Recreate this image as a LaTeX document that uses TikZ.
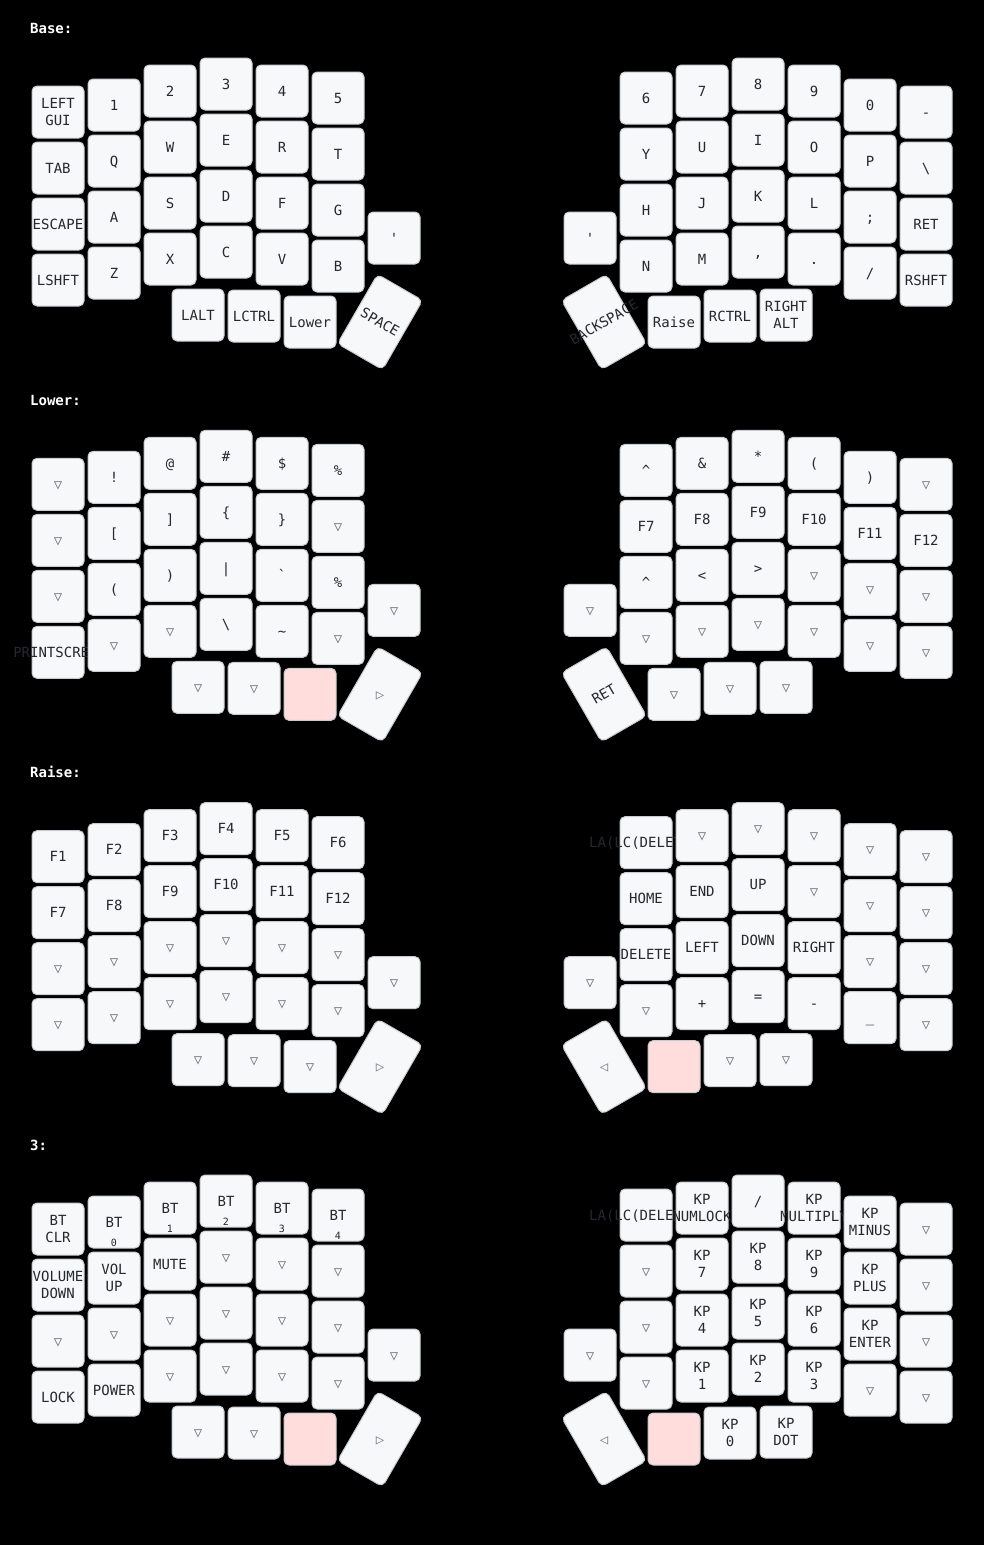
\documentclass[tikz,border=0pt]{standalone}
\usepackage{fontspec}
\newfontfamily\mono{DejaVu Sans Mono}[Ligatures=TeXOff]
\definecolor{keyfill}{HTML}{F6F8FA}
\definecolor{keyline}{HTML}{C9CCCF}
\definecolor{keytext}{HTML}{24292E}
\definecolor{transtext}{HTML}{7B7E81}
\definecolor{heldfill}{HTML}{FFDDDD}
\tikzset{
 kbox/.style={draw=keyline, fill=keyfill, line width=1pt, rounded corners=5pt, minimum width=52pt, minimum height=52pt, inner sep=0pt, outer sep=0pt},
 heldbox/.style={kbox, fill=heldfill},
 rotbox/.style={kbox, minimum height=80pt},
 lbl/.style={inner sep=0pt, text height=10pt, text depth=0pt, text=keytext, font=\mono\fontsize{14pt}{16.8pt}\selectfont},
 translbl/.style={lbl, text=transtext},
 holdlbl/.style={inner sep=0pt, anchor=base, text=keytext, font=\mono\fontsize{10pt}{12pt}\selectfont},
 layerlbl/.style={inner sep=0pt, anchor=west, text height=10pt, text depth=0pt, text=white, font=\mono\bfseries\fontsize{14pt}{16.8pt}\selectfont},
}
\newcommand\kk[4]{\def\cn{#1}\def\cx{#2}\def\cy{#3}\node[kbox] (#1) at (#2,#3) {};#4}
\newcommand\lA[1]{\node[lbl] (\cn-t) at (\cx,\cy) {#1};}
\newcommand\lX[2]{\node[lbl] (\cn-t) at (#1,\cy) {#2};}
\newcommand\lB[2]{\node[lbl] (\cn-a) at (\cx,\cy-8.4) {#1};\node[lbl] (\cn-b) at (\cx,\cy+8.4) {#2};}
\newcommand\lT{\node[translbl] (\cn-t) at (\cx,\cy) {▽};}
\newcommand\lH[2]{\node[lbl] (\cn-t) at (\cx,\cy) {#1};\node[holdlbl] (\cn-h) at (\cx,\cy+24) {#2};}
\newcommand\lrow[8]{%
 \kk{#1l#2a}{58}{112+56*#2+\LO}{#3}%
 \kk{#1l#2b}{114}{105+56*#2+\LO}{#4}%
 \kk{#1l#2c}{170}{91+56*#2+\LO}{#5}%
 \kk{#1l#2d}{226}{84+56*#2+\LO}{#6}%
 \kk{#1l#2e}{282}{91+56*#2+\LO}{#7}%
 \kk{#1l#2f}{338}{98+56*#2+\LO}{#8}}
\newcommand\rrow[8]{%
 \kk{#1r#2a}{646}{98+56*#2+\LO}{#3}%
 \kk{#1r#2b}{702}{91+56*#2+\LO}{#4}%
 \kk{#1r#2c}{758}{84+56*#2+\LO}{#5}%
 \kk{#1r#2d}{814}{91+56*#2+\LO}{#6}%
 \kk{#1r#2e}{870}{105+56*#2+\LO}{#7}%
 \kk{#1r#2f}{926}{112+56*#2+\LO}{#8}}
\begin{document}
\begin{tikzpicture}[x=1pt,y=-1pt]
\fill[black] (0,0) rectangle (984,1545);
\useasboundingbox (0,0) rectangle (984,1545);
% ---------------- Base
\def\LO{0}
\node[layerlbl] (b-title) at (30,28+\LO) {Base:};
\lrow{b}{0}{\lB{LEFT}{GUI}}{\lA{1}}{\lA{2}}{\lA{3}}{\lA{4}}{\lA{5}}
\rrow{b}{0}{\lA{6}}{\lA{7}}{\lA{8}}{\lA{9}}{\lA{0}}{\lA{-}}
\lrow{b}{1}{\lA{TAB}}{\lA{Q}}{\lA{W}}{\lA{E}}{\lA{R}}{\lA{T}}
\rrow{b}{1}{\lA{Y}}{\lA{U}}{\lA{I}}{\lA{O}}{\lA{P}}{\lA{\textbackslash}}
\lrow{b}{2}{\lA{ESCAPE}}{\lA{A}}{\lA{S}}{\lA{D}}{\lA{F}}{\lA{G}}
\rrow{b}{2}{\lA{H}}{\lA{J}}{\lA{K}}{\lA{L}}{\lA{;}}{\lA{RET}}
\kk{blx}{394}{238+\LO}{\lA{'}}
\kk{brx}{590}{238+\LO}{\lA{'}}
\lrow{b}{3}{\lA{LSHFT}}{\lA{Z}}{\lA{X}}{\lA{C}}{\lA{V}}{\lA{B}}
\rrow{b}{3}{\lA{N}}{\lA{M}}{\lA{,}}{\lA{.}}{\lA{/}}{\lA{RSHFT}}
\kk{blt1}{198}{315+\LO}{\lA{LALT}}
\kk{blt2}{254}{316+\LO}{\lA{LCTRL}}
\kk{blt3}{310}{322+\LO}{\lA{Lower}}
\node[rotbox, rotate=-30] (blt4) at (380,322+\LO) {};
\node[lbl, rotate=-30] (blt4-t) at (380,322+\LO) {SPACE};
\node[rotbox, rotate=30] (brt1) at (604,322+\LO) {};
\node[lbl, rotate=30] (brt1-t) at (604,322+\LO) {BACKSPACE};
\kk{brt2}{674}{322+\LO}{\lA{Raise}}
\kk{brt3}{730}{316+\LO}{\lA{RCTRL}}
\kk{brt4}{786}{315+\LO}{\lB{RIGHT}{ALT}}
% ---------------- Lower
\def\LO{372.33}
\node[layerlbl] (l-title) at (30,28+\LO) {Lower:};
\lrow{l}{0}{\lT}{\lA{!}}{\lA{@}}{\lA{\#}}{\lA{\$}}{\lA{\%}}
\rrow{l}{0}{\lA{\textasciicircum}}{\lA{\&}}{\lA{*}}{\lA{(}}{\lA{)}}{\lT}
\lrow{l}{1}{\lT}{\lA{[}}{\lA{]}}{\lA{\{}}{\lA{\}}}{\lT}
\rrow{l}{1}{\lA{F7}}{\lA{F8}}{\lA{F9}}{\lA{F10}}{\lA{F11}}{\lA{F12}}
\lrow{l}{2}{\lT}{\lA{(}}{\lA{)}}{\lA{|}}{\lA{`}}{\lA{\%}}
\rrow{l}{2}{\lA{\textasciicircum}}{\lA{<}}{\lA{>}}{\lT}{\lT}{\lT}
\kk{llx}{394}{238+\LO}{\lT}
\kk{lrx}{590}{238+\LO}{\lT}
\lrow{l}{3}{\lX{51.2}{PRINTSCRE}}{\lT}{\lT}{\lA{\textbackslash}}{\lA{\textasciitilde}}{\lT}
\rrow{l}{3}{\lT}{\lT}{\lT}{\lT}{\lT}{\lT}
\kk{llt1}{198}{315+\LO}{\lT}
\kk{llt2}{254}{316+\LO}{\lT}
\node[heldbox] (llt3) at (310,322+\LO) {};
\node[rotbox, rotate=-30] (llt4) at (380,322+\LO) {};
\node[translbl] (llt4-t) at (380,322+\LO) {▷};
\node[rotbox, rotate=30] (lrt1) at (604,322+\LO) {};
\node[lbl, rotate=30] (lrt1-t) at (604,322+\LO) {RET};
\kk{lrt2}{674}{322+\LO}{\lT}
\kk{lrt3}{730}{316+\LO}{\lT}
\kk{lrt4}{786}{315+\LO}{\lT}
% ---------------- Raise
\def\LO{744.67}
\node[layerlbl] (r-title) at (30,28+\LO) {Raise:};
\lrow{r}{0}{\lA{F1}}{\lA{F2}}{\lA{F3}}{\lA{F4}}{\lA{F5}}{\lA{F6}}
\rrow{r}{0}{\lX{635.5}{LA(LC(DELET}}{\lT}{\lT}{\lT}{\lT}{\lT}
\lrow{r}{1}{\lA{F7}}{\lA{F8}}{\lA{F9}}{\lA{F10}}{\lA{F11}}{\lA{F12}}
\rrow{r}{1}{\lA{HOME}}{\lA{END}}{\lA{UP}}{\lT}{\lT}{\lT}
\lrow{r}{2}{\lT}{\lT}{\lT}{\lT}{\lT}{\lT}
\rrow{r}{2}{\lA{DELETE}}{\lA{LEFT}}{\lA{DOWN}}{\lA{RIGHT}}{\lT}{\lT}
\kk{rlx}{394}{238+\LO}{\lT}
\kk{rrx}{590}{238+\LO}{\lT}
\lrow{r}{3}{\lT}{\lT}{\lT}{\lT}{\lT}{\lT}
\rrow{r}{3}{\lT}{\lA{+}}{\lA{=}}{\lA{-}}{\lA{\_}}{\lT}
\kk{rlt1}{198}{315+\LO}{\lT}
\kk{rlt2}{254}{316+\LO}{\lT}
\kk{rlt3}{310}{322+\LO}{\lT}
\node[rotbox, rotate=-30] (rlt4) at (380,322+\LO) {};
\node[translbl] (rlt4-t) at (380,322+\LO) {▷};
\node[rotbox, rotate=30] (rrt1) at (604,322+\LO) {};
\node[translbl] (rrt1-t) at (604,322+\LO) {◁};
\node[heldbox] (rrt2) at (674,322+\LO) {};
\kk{rrt3}{730}{316+\LO}{\lT}
\kk{rrt4}{786}{315+\LO}{\lT}
% ---------------- 3
\def\LO{1117}
\node[layerlbl] (t-title) at (30,28+\LO) {3:};
\lrow{t}{0}{\lB{BT}{CLR}}{\lH{BT}{0}}{\lH{BT}{1}}{\lH{BT}{2}}{\lH{BT}{3}}{\lH{BT}{4}}
\rrow{t}{0}{\lX{635.5}{LA(LC(DELET}}{\lB{KP}{NUMLOCK}}{\lA{/}}{\lB{KP}{MULTIPLY}}{\lB{KP}{MINUS}}{\lT}
\lrow{t}{1}{\lB{VOLUME}{DOWN}}{\lB{VOL}{UP}}{\lA{MUTE}}{\lT}{\lT}{\lT}
\rrow{t}{1}{\lT}{\lB{KP}{7}}{\lB{KP}{8}}{\lB{KP}{9}}{\lB{KP}{PLUS}}{\lT}
\lrow{t}{2}{\lT}{\lT}{\lT}{\lT}{\lT}{\lT}
\rrow{t}{2}{\lT}{\lB{KP}{4}}{\lB{KP}{5}}{\lB{KP}{6}}{\lB{KP}{ENTER}}{\lT}
\kk{tlx}{394}{238+\LO}{\lT}
\kk{trx}{590}{238+\LO}{\lT}
\lrow{t}{3}{\lA{LOCK}}{\lA{POWER}}{\lT}{\lT}{\lT}{\lT}
\rrow{t}{3}{\lT}{\lB{KP}{1}}{\lB{KP}{2}}{\lB{KP}{3}}{\lT}{\lT}
\kk{tlt1}{198}{315+\LO}{\lT}
\kk{tlt2}{254}{316+\LO}{\lT}
\node[heldbox] (tlt3) at (310,322+\LO) {};
\node[rotbox, rotate=-30] (tlt4) at (380,322+\LO) {};
\node[translbl] (tlt4-t) at (380,322+\LO) {▷};
\node[rotbox, rotate=30] (trt1) at (604,322+\LO) {};
\node[translbl] (trt1-t) at (604,322+\LO) {◁};
\node[heldbox] (trt2) at (674,322+\LO) {};
\kk{trt3}{730}{316+\LO}{\lB{KP}{0}}
\kk{trt4}{786}{315+\LO}{\lB{KP}{DOT}}
\end{tikzpicture}
\end{document}
